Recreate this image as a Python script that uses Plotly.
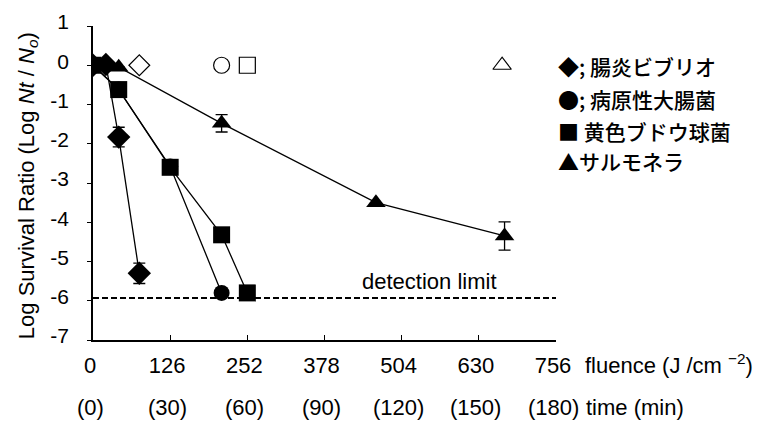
import plotly.graph_objects as go

# ---- data ----
vib_x = [0, 21, 42, 75.6]
vib_y = [0.0, 0.02, -1.83, -5.3]
vib_err = [0, 0, 0.25, 0.26]

eco_x = [0, 42, 126, 210]
eco_y = [0.0, -0.62, -2.58, -5.8]
eco_err = [0, 0, 0, 0]

sau_x = [0, 42, 126, 210, 252]
sau_y = [0.0, -0.62, -2.6, -4.32, -5.8]
sau_err = [0, 0, 0, 0, 0]

sal_x = [0, 42, 210, 462, 672]
sal_y = [0.0, -0.05, -1.48, -3.5, -4.35]
sal_err = [0, 0, 0.22, 0, 0.36]

ctrl_x = [75.6, 210, 252, 668]
ctrl_y = [0, 0, 0, 0]
ctrl_sym = ["diamond-open", "circle-open", "square-open", "triangle-up-open"]

fluence_ticks = [0, 126, 252, 378, 504, 630, 756]
time_labels = ["(0)", "(30)", "(60)", "(90)", "(120)", "(150)", "(180)"]
y_ticks = [1, 0, -1, -2, -3, -4, -5, -6, -7]

legend_labels = ["◆; 腸炎ビブリオ", "●; 病原性大腸菌", "■ 黄色ブドウ球菌", "▲サルモネラ"]
detection_limit = -5.93
detection_label_x = 550

FONT = "Liberation Sans, Arial, sans-serif"
JFONT = "Noto Sans CJK JP"

fig = go.Figure()

# detection limit line
fig.add_trace(go.Scatter(x=[0, 756], y=[detection_limit, detection_limit], mode="lines",
                         line=dict(color="black", width=2, dash="6px,3px"),
                         hoverinfo="skip", showlegend=False))

def series(x, y, err, sym, size):
    fig.add_trace(go.Scatter(
        x=x, y=y, mode="lines+markers",
        line=dict(color="black", width=1.3),
        marker=dict(symbol=sym, size=size, color="black"),
        error_y=dict(type="data", array=err, symmetric=True, color="black",
                     thickness=1.3, width=6),
        showlegend=False))

series(sal_x, sal_y, sal_err, "triangle-up", 17)
series(sau_x, sau_y, sau_err, "square", 17)
series(eco_x, eco_y, eco_err, "circle", 16)
series(vib_x, vib_y, vib_err, "diamond", 18)

fig.add_trace(go.Scatter(x=ctrl_x, y=ctrl_y, mode="markers",
                         marker=dict(symbol=ctrl_sym, size=16, color="black",
                                     line=dict(color="black", width=1.2)),
                         showlegend=False))

annotations = []
for xv, lab in zip(fluence_ticks, time_labels):
    annotations.append(dict(x=xv, y=0, xref="x", yref="paper", yshift=-67, xshift=-3,
                            yanchor="middle", text=lab, showarrow=False,
                            font=dict(family=FONT, size=22, color="black")))
annotations.append(dict(x=1.0, y=0, xref="paper", yref="paper", xshift=27, yshift=-24,
                        xanchor="left", yanchor="middle",
                        text="fluence (J /cm <sup>−2</sup>)", showarrow=False,
                        font=dict(family=FONT, size=22, color="black")))
annotations.append(dict(x=1.0, y=0, xref="paper", yref="paper", xshift=28, yshift=-67,
                        xanchor="left", yanchor="middle", text="time (min)", showarrow=False,
                        font=dict(family=FONT, size=22, color="black")))
annotations.append(dict(x=detection_label_x, y=detection_limit, xref="x", yref="y", yshift=17,
                        yanchor="middle", text="detection limit", showarrow=False,
                        font=dict(family=FONT, size=22, color="black")))
legend_y = [66, 99, 131, 161]
for lab, py in zip(legend_labels, legend_y):
    annotations.append(dict(x=1.0, y=1, xref="paper", yref="paper", xshift=0,
                            yshift=26 - py, xanchor="left", yanchor="middle",
                            text=lab, showarrow=False,
                            font=dict(family=JFONT, size=21, color="black", weight=500)))
annotations.append(dict(x=0, y=0.49, xref="paper", yref="paper", xshift=-65,
                        xanchor="center", yanchor="middle", textangle=-90,
                        text="Log Survival Ratio (Log <i>Nt</i> / <i>N<sub>o</sub></i>)",
                        showarrow=False, font=dict(family=FONT, size=22, color="black")))

# page body has an 8px margin, so the figure is sized to fit the window
fig.update_layout(
    width=755, height=414,
    margin=dict(l=85, r=207, t=18, b=82, autoexpand=False),
    paper_bgcolor="white", plot_bgcolor="white",
    font=dict(family=FONT, size=20, color="black"),
    annotations=annotations,
    xaxis=dict(range=[0, 756], tickvals=fluence_ticks, ticktext=[str(v) for v in fluence_ticks],
               showgrid=False, zeroline=False, showline=True, linecolor="black", linewidth=1.5,
               ticks="inside", ticklen=5, tickcolor="black", tickwidth=1.3,
               automargin=False, ticklabelstandoff=5, ticklabelshift=-3,
               tickfont=dict(family=FONT, size=22, color="black")),
    yaxis=dict(range=[-7, 1], tickvals=y_ticks, ticktext=[str(v) for v in y_ticks],
               showgrid=False, zeroline=False, showline=True, linecolor="black", linewidth=1.5,
               ticks="outside", ticklen=4, tickcolor="black", tickwidth=1.3,
               automargin=False, ticklabelstandoff=14, ticklabelshift=-4,
               tickfont=dict(family=FONT, size=21, color="black")),
)

fig.write_html("out.html")
